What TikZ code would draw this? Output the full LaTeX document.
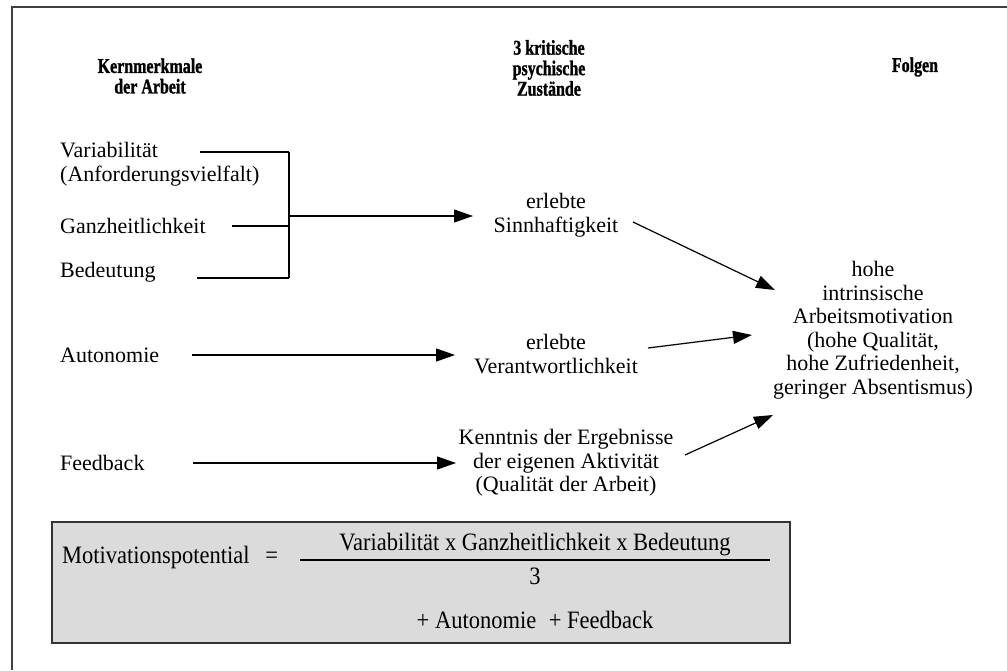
\documentclass[tikz,border=0pt]{standalone}
\usepackage{fontspec}
\setmainfont{Liberation Serif}
\newfontfamily\hdrfont[FakeStretch=0.76, FakeBold=1.2]{Liberation Serif}
\newfontfamily\condfont[FakeStretch=0.9]{Liberation Serif}
\usetikzlibrary{arrows.meta}
\begin{document}
\begin{tikzpicture}[x=1pt,y=-1pt,
  txt/.style={font=\fontsize{22}{23.5}\selectfont, inner sep=0pt, align=center},
  lft/.style={txt, anchor=west, align=left},
  hdr/.style={font=\hdrfont\bfseries\fontsize{21}{20.5}\selectfont, inner sep=0pt, align=center},
  boxtxt/.style={font=\condfont\fontsize{25}{27}\selectfont, inner sep=0pt},
  ln/.style={line width=1.2pt},
  arr/.style={ln, -{Triangle[length=19pt,width=13pt]}},
  frame/.style={line width=2.5pt, draw=black!75}
]
\useasboundingbox (0,0) rectangle (1007,670);
% frame (top and left only)
\coordinate (fa) at (12,670);
\coordinate (fb) at (12,7);
\coordinate (fc) at (1007,7);
\draw[frame] (fa) -- (fb) -- (fc);

% headers
\node (h1) [hdr] at (150,76) {Kernmerkmale\\der Arbeit};
\node (h2) [hdr] at (549,68) {3 kritische\\psychische\\Zustände};
\node (h3) [hdr] at (915,67) {Folgen};

% left column
\node (var)  [lft] at (60,164) {Variabilität\\(Anforderungsvielfalt)};
\node (ganz) [lft] at (60,226) {Ganzheitlichkeit};
\node (bed)  [lft] at (60,272) {Bedeutung};
\node (aut)  [lft] at (60,355) {Autonomie};
\node (feed) [lft] at (60,463) {Feedback};

% middle column
\node (sinn)  [txt] at (556,215) {erlebte\\Sinnhaftigkeit};
\node (ver)   [txt] at (556,354) {erlebte\\Verantwortlichkeit};
\node (kennt) [txt] at (566,463) {Kenntnis der Ergebnisse\\der eigenen Aktivität\\(Qualität der Arbeit)};

% right column
\node (folg) [txt] at (873,330) {hohe\\intrinsische\\Arbeitsmotivation\\(hohe Qualität,\\hohe Zufriedenheit,\\geringer Absentismus)};

% bracket lines
\coordinate (v0) at (200,152);
\coordinate (g0) at (232,226);
\coordinate (b0) at (197,278);
\coordinate (j1) at (289,152);
\coordinate (j2) at (289,226);
\coordinate (j3) at (289,278);
\coordinate (jm) at (289,216);
\coordinate (st) at (473,216);
\draw[ln] (v0) -- (j1);
\draw[ln] (g0) -- (j2);
\draw[ln] (b0) -- (j3);
\draw[ln] (j1) -- (j3);
\draw[arr] (jm) -- (st);

% autonomie / feedback arrows
\coordinate (a0) at (192,355);
\coordinate (a1) at (455,355);
\coordinate (f0) at (193,463);
\coordinate (f1) at (456,463);
\draw[arr] (a0) -- (a1);
\draw[arr] (f0) -- (f1);

% arrows to outcomes
\coordinate (s0) at (633,222);
\coordinate (s1) at (775,290);
\coordinate (r0) at (648,348);
\coordinate (r1) at (752,335);
\coordinate (k0) at (685,455);
\coordinate (k1) at (773,415);
\draw[arr] (s0) -- (s1);
\draw[arr] (r0) -- (r1);
\draw[arr] (k0) -- (k1);

% formula box
\node (mpbox) [draw=black!80, line width=2pt, fill=black!14, minimum width=738pt, minimum height=121pt, inner sep=0pt] at (421,582.5) {};
\node (mp) [boxtxt, anchor=west] at (62,557) {Motivationspotential\hspace{10pt} =};
\coordinate (fl) at (300,560);
\coordinate (fr) at (770,560);
\draw[line width=1.6pt] (fl) -- (fr);
\node (num) [boxtxt] at (535,545) {Variabilität x Ganzheitlichkeit x Bedeutung};
\node (three) [boxtxt] at (535,576) {3};
\node (plus) [boxtxt] at (535,620) {+ Autonomie\enspace + Feedback};
\end{tikzpicture}
\end{document}
